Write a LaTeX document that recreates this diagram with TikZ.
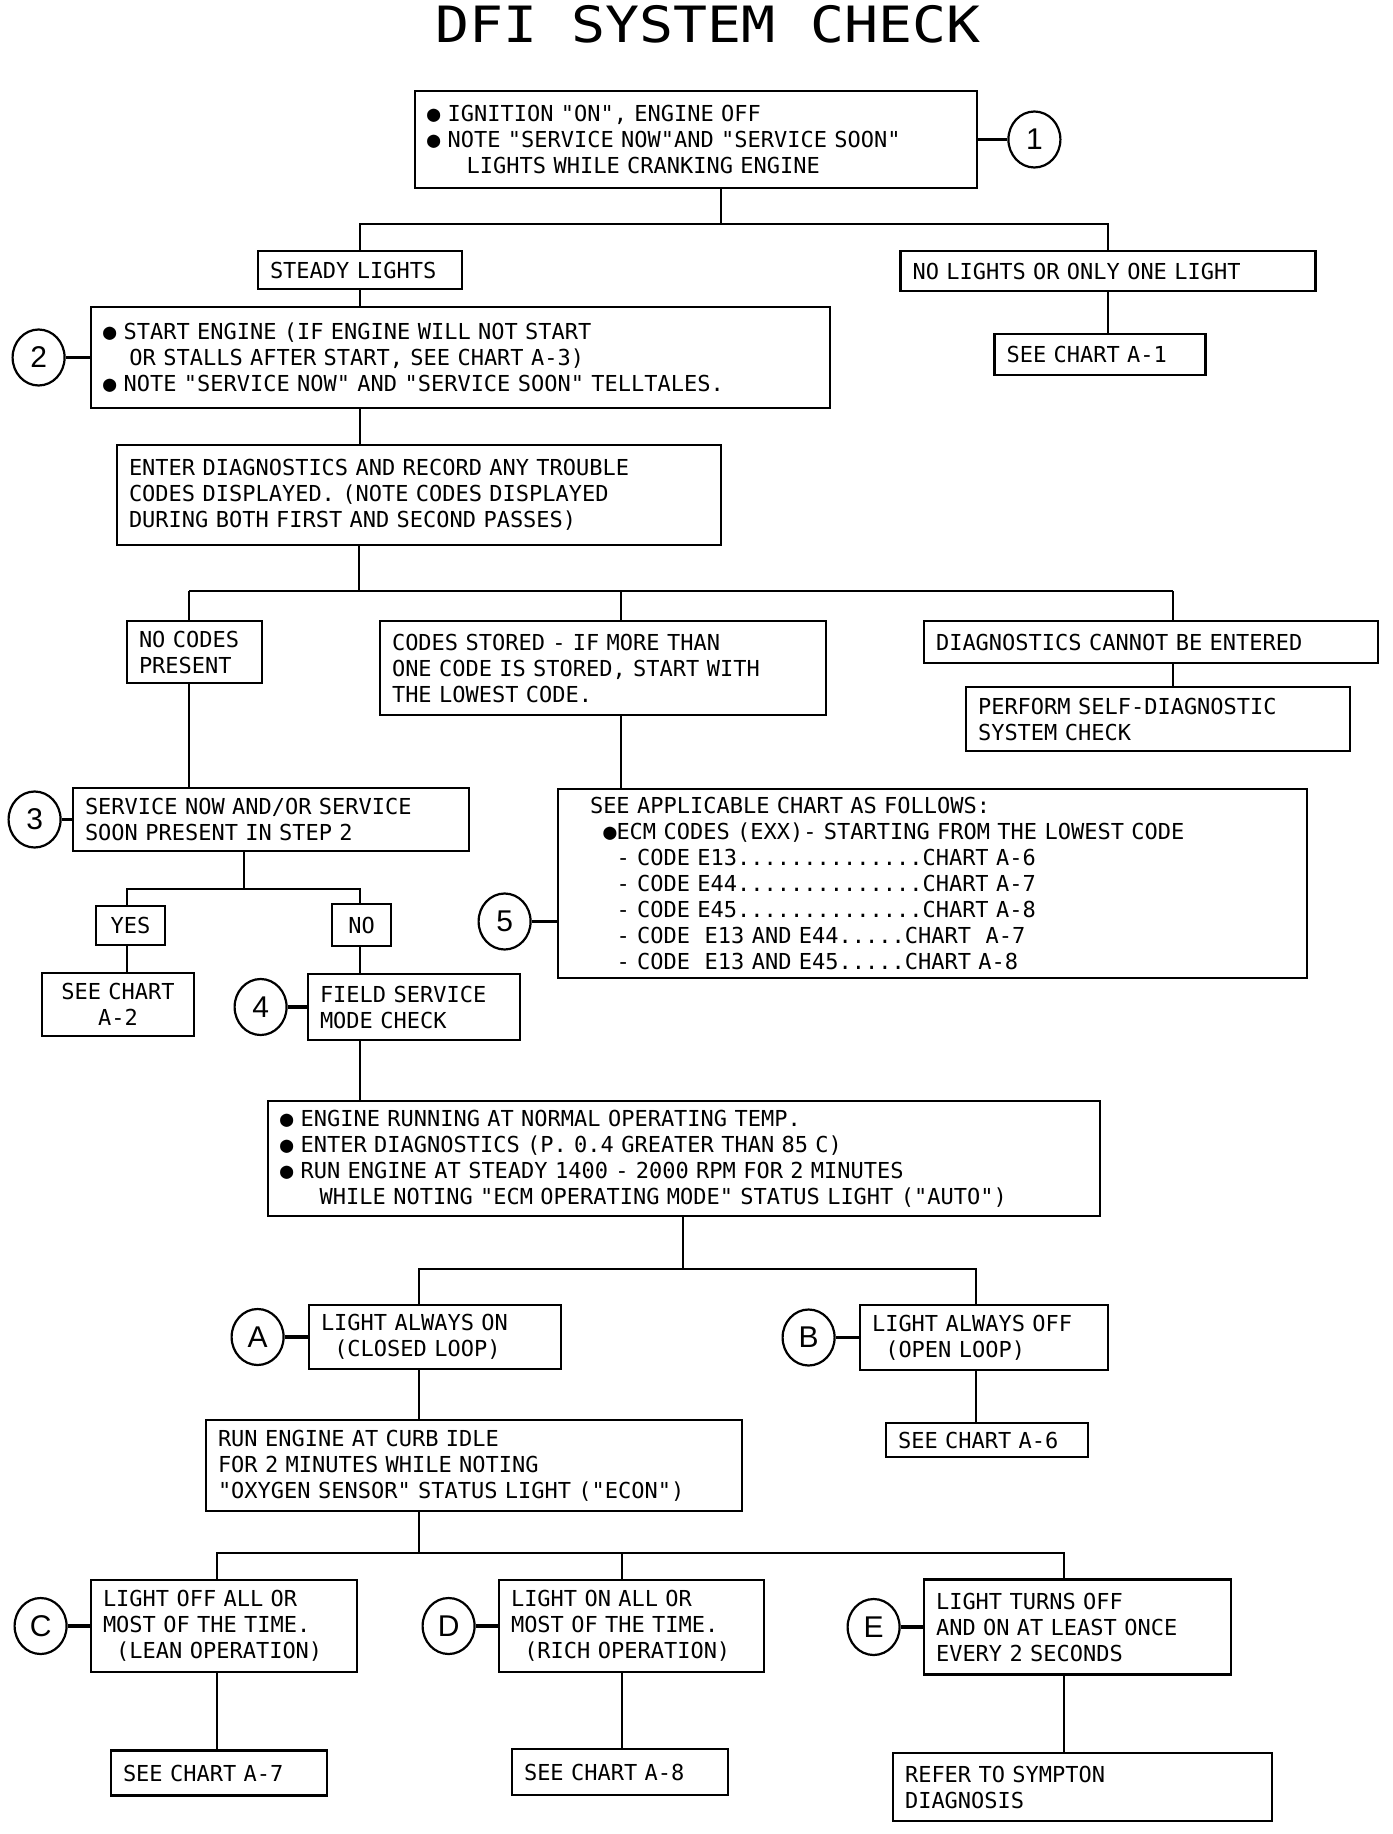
\documentclass[tikz,border=0pt]{standalone}
\usepackage{fontspec}
\usepackage{graphicx}
\newfontfamily\plotfont{DejaVu Sans Mono}
\newfontfamily\circfont{Liberation Sans}
\usetikzlibrary{shapes, positioning, calc}
\tikzset{
    block/.style = {rectangle, draw, line width=1.3pt, align=left, inner xsep=6pt, inner ysep=2pt, font=\plotfont\fontsize{11}{13}\selectfont},
    tinybox/.style = {block, align=center, inner xsep=2pt},
    badge/.style = {ellipse, draw, line width=1.1pt, minimum width=26pt, minimum height=28pt, inner sep=0pt, font=\circfont\fontsize{15}{15}\selectfont},
    line/.style = {draw, line width=1pt},
    tieline/.style = {draw, line width=1.6pt}
}
\begin{document}
\begin{tikzpicture}[x=0.5pt, y=-0.5pt]
        \useasboundingbox [fill=white] (0,0) rectangle (1392,1834);

        % Title
        \node [anchor=base, font=\plotfont\fontsize{25}{30}\selectfont] (title) at (708,43) {\scalebox{1.13}[1]{DFI SYSTEM CHECK}};

        % Step 1
        \node [block, text width=269pt, minimum height=48.5pt] (ign) at (696,139.5) {● IGNITION "ON", ENGINE OFF\\● NOTE "SERVICE NOW"AND "SERVICE SOON"\\\phantom{XXX}LIGHTS WHILE CRANKING ENGINE};
        \node [badge, right=14.5pt of ign] (s1) {1};

        \node [block, text width=90pt, minimum height=19pt] (steady) at (360,270) {STEADY LIGHTS};
        \node [block, text width=195.5pt, minimum height=20pt] (nolights) at (1108,271) {NO LIGHTS OR ONLY ONE LIGHT};
        \node [block, text width=93.5pt, minimum height=20.5pt] (chartA1) at (1100,354.5) {SEE CHART A-1};

        % Step 2
        \node [block, text width=357.5pt, minimum height=50.5pt] (start) at (460.5,357.5) {● START ENGINE (IF ENGINE WILL NOT START\\\phantom{XX}OR STALLS AFTER START, SEE CHART A-3)\\● NOTE "SERVICE NOW" AND "SERVICE SOON" TELLTALES.};
        \node [badge, left=12pt of start] (s2) {2};

        \node [block, text width=290pt, minimum height=50pt] (enterdiag) at (419,495) {ENTER DIAGNOSTICS AND RECORD ANY TROUBLE\\CODES DISPLAYED. (NOTE CODES DISPLAYED\\DURING BOTH FIRST AND SECOND PASSES)};

        % Trouble codes
        \node [block, text width=55.5pt, minimum height=31pt] (nocodes) at (194.5,652) {NO CODES\\PRESENT};
        \node [block, text width=211pt, minimum height=47pt] (stored) at (603,668) {CODES STORED - IF MORE THAN\\ONE CODE IS STORED, START WITH\\THE LOWEST CODE.};
        \node [block, text width=215pt, minimum height=21pt] (cannot) at (1151,642) {DIAGNOSTICS CANNOT BE ENTERED};
        \node [block, text width=180pt, minimum height=32pt] (selfdiag) at (1158,719) {PERFORM SELF-DIAGNOSTIC\\SYSTEM CHECK};

        % Step 3
        \node [block, text width=186pt, minimum height=31.5pt] (svcnow) at (271,819.5) {SERVICE NOW AND/OR SERVICE\\SOON PRESENT IN STEP 2};
        \node [badge, left=5pt of svcnow] (s3) {3};

        % Step 5
        \node [block, inner xsep=16pt, text width=342.5pt, minimum height=94.5pt] (applicable) at (932.5,883.5) {SEE APPLICABLE CHART AS FOLLOWS:\\
            \phantom{X}●ECM CODES (EXX)- STARTING FROM THE LOWEST CODE\\
            \phantom{XX}- CODE E13..............CHART A-6\\
            \phantom{XX}- CODE E44..............CHART A-7\\
            \phantom{XX}- CODE E45..............CHART A-8\\
            \phantom{XX}- CODE\ \ E13 AND E44.....CHART\ \ A-7\\
            \phantom{XX}- CODE\ \ E13 AND E45.....CHART A-8};
        \node [badge, left=12.5pt of applicable, yshift=-19pt] (s5) {5};

        \node [tinybox, text width=30.5pt, minimum height=19.5pt] (yes) at (130.5,925.5) {YES};
        \node [tinybox, text width=25.5pt, minimum height=21pt] (no) at (361.5,925) {NO};
        \node [tinybox, inner xsep=6pt, text width=64pt, minimum height=31.5pt] (chartA2) at (118,1004.5) {SEE CHART\\A-2};

        % Step 4
        \node [block, text width=94pt, minimum height=33pt] (field) at (414,1007) {FIELD SERVICE\\MODE CHECK};
        \node [badge, left=9.5pt of field] (s4) {4};

        \node [block, text width=404pt, minimum height=57.5pt] (running) at (684,1158.5) {● ENGINE RUNNING AT NORMAL OPERATING TEMP.\\● ENTER DIAGNOSTICS (P. 0.4 GREATER THAN 85 C)\\● RUN ENGINE AT STEADY 1400 - 2000 RPM FOR 2 MINUTES\\\phantom{XXX}WHILE NOTING "ECM OPERATING MODE" STATUS LIGHT ("AUTO")};

        % Status light A / B
        \node [block, text width=114pt, minimum height=32pt] (alwayson) at (435,1337) {LIGHT ALWAYS ON\\\phantom{X}(CLOSED LOOP)};
        \node [badge, left=11.5pt of alwayson] (sA) {A};
        \node [block, text width=112pt, minimum height=32.5pt] (alwaysoff) at (984,1337.5) {LIGHT ALWAYS OFF\\\phantom{X}(OPEN LOOP)};
        \node [badge, left=11.5pt of alwaysoff] (sB) {B};
        \node [block, text width=89pt, minimum height=17pt] (chartA6) at (987,1440) {SEE CHART A-6};

        \node [block, text width=256pt, minimum height=45.5pt] (curbidle) at (474,1465.5) {RUN ENGINE AT CURB IDLE\\FOR 2 MINUTES WHILE NOTING\\"OXYGEN SENSOR" STATUS LIGHT ("ECON")};

        % Oxygen sensor C / D / E
        \node [block, text width=121pt, minimum height=46pt] (lean) at (224,1626) {LIGHT OFF ALL OR\\MOST OF THE TIME.\\\phantom{X}(LEAN OPERATION)};
        \node [badge, left=11pt of lean] (sC) {C};
        \node [block, text width=120.5pt, minimum height=46pt] (rich) at (631.5,1626) {LIGHT ON ALL OR\\MOST OF THE TIME.\\\phantom{X}(RICH OPERATION)};
        \node [badge, left=11pt of rich] (sD) {D};
        \node [block, text width=141.5pt, minimum height=47.5pt] (turns) at (1077.5,1627) {LIGHT TURNS OFF\\AND ON AT LEAST ONCE\\EVERY 2 SECONDS};
        \node [badge, left=11pt of turns] (sE) {E};

        \node [block, text width=96pt, minimum height=22.5pt] (chartA7) at (219,1773) {SEE CHART A-7};
        \node [block, text width=96pt, minimum height=23pt] (chartA8) at (620,1772) {SEE CHART A-8};
        \node [block, text width=177.5pt, minimum height=34pt] (symptom) at (1082.5,1787) {REFER TO SYMPTON\\DIAGNOSIS};

        % Junctions
        \coordinate (j1) at (721,224);
        \coordinate (j2) at (359,591);
        \coordinate (k1) at (189,591);
        \coordinate (k2) at (621,591);
        \coordinate (k3) at (1173,591);
        \coordinate (j3) at (244,889);
        \coordinate (m1) at (127,889);
        \coordinate (m2) at (360,889);
        \coordinate (j4) at (683,1269);
        \coordinate (n1) at (419,1269);
        \coordinate (n2) at (976,1269);
        \coordinate (j5) at (419,1553);
        \coordinate (p1) at (217,1553);
        \coordinate (p2) at (622,1553);
        \coordinate (p3) at (1064,1553);

        % Step markers
        \path [tieline] (s1) -- (ign);
        \path [tieline] (s2) -- (start);
        \path [tieline] (s3) -- (svcnow);
        \path [tieline] (s4) -- (field);
        \path [tieline] (s5) -- (s5 -| applicable.west);
        \path [tieline] (sA) -- (alwayson);
        \path [tieline] (sB) -- (alwaysoff);
        \path [tieline] (sC) -- (lean);
        \path [tieline] (sD) -- (rich);
        \path [tieline] (sE) -- (turns);

        % Lines
        \path [line] (ign.south -| j1) -- (j1);
        \path [line] (steady.north) |- (j1) -| (nolights.north);
        \path [line] (steady) -- (steady |- start.north);
        \path [line] (nolights) -- (nolights |- chartA1.north);
        \path [line] (start.south -| steady) -- (enterdiag.north -| steady);
        \path [line] (enterdiag.south -| j2) -- (j2);
        \path [line] (k1) -- (k3);
        \path [line] (k1) -- (k1 |- nocodes.north);
        \path [line] (k2) -- (k2 |- stored.north);
        \path [line] (k3) -- (k3 |- cannot.north);
        \path [line] (nocodes.south -| k1) -- (svcnow.north -| k1);
        \path [line] (stored.south -| k2) -- (applicable.north -| k2);
        \path [line] (cannot.south -| k3) -- (selfdiag.north -| k3);
        \path [line] (svcnow.south -| j3) -- (j3);
        \path [line] (yes.north -| m1) -- (m1) -- (m2) -- (no.north -| m2);
        \path [line] (yes.south -| m1) -- (chartA2.north -| m1);
        \path [line] (no.south -| m2) -- (field.north -| m2);
        \path [line] (field.south -| m2) -- (running.north -| m2);
        \path [line] (running.south -| j4) -- (j4);
        \path [line] (alwayson.north -| n1) -- (n1) -- (n2) -- (alwaysoff.north -| n2);
        \path [line] (alwayson.south -| n1) -- (curbidle.north -| n1);
        \path [line] (alwaysoff.south -| n2) -- (chartA6.north -| n2);
        \path [line] (curbidle.south -| j5) -- (j5);
        \path [line] (lean.north -| p1) -- (p1) -- (p3) -- (turns.north -| p3);
        \path [line] (p2) -- (rich.north -| p2);
        \path [line] (lean.south -| p1) -- (chartA7.north -| p1);
        \path [line] (rich.south -| p2) -- (chartA8.north -| p2);
        \path [line] (turns.south -| p3) -- (symptom.north -| p3);

    \end{tikzpicture}
\end{document}
